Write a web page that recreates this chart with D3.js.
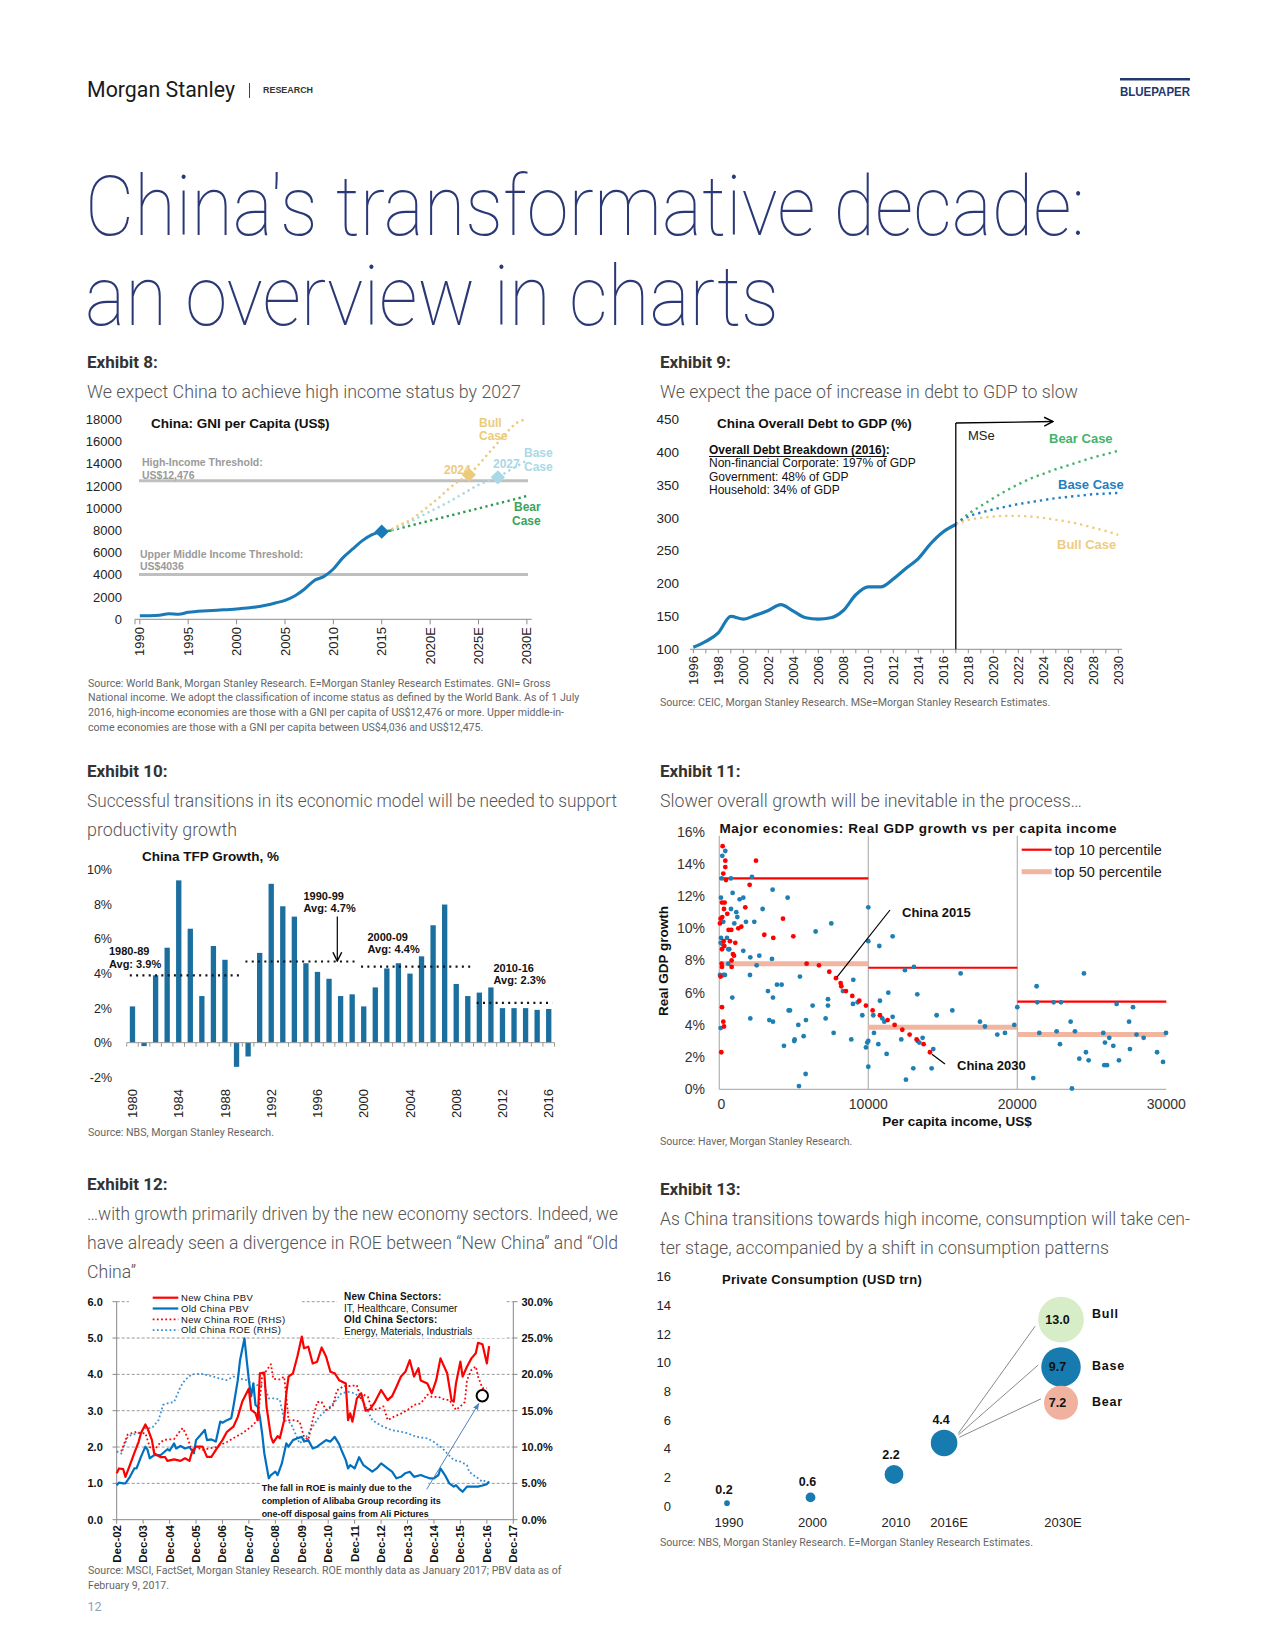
<!DOCTYPE html>
<html><head><meta charset="utf-8">
<script src="https://cdn.jsdelivr.net/npm/d3@7"></script>
<style>body{margin:0;background:#fff}svg{display:block}</style>
</head><body><svg id="page" width="1275" height="1650"></svg>
<script>
// ================= DATA =================
// Exhibit 8: China GNI per capita (US$)
const gniYears = d3.range(1990, 2031).map(String);
const gniTickYears = ["1990","1995","2000","2005","2010","2015","2020","2025","2030"];
const gniTickLabels = ["1990","1995","2000","2005","2010","2015","2020E","2025E","2030E"];
const gniYTicks = [0,2000,4000,6000,8000,10000,12000,14000,16000,18000];
const gniHistYears = d3.range(1990, 2016).map(String);
const gniHist = [310,320,360,510,450,630,720,780,810,870,930,1020,1110,1260,1470,1710,2100,2700,3480,3840,4530,5550,6330,7080,7620,7890];
const gniProjYears = d3.range(2016, 2031).map(String);
const gniBull = [8100,8550,8950,9600,10300,11000,11800,12450,13000,13900,14900,15900,16900,17700,18000];
const gniBase = [8050,8400,8800,9250,9700,10150,10600,11100,11600,12100,12450,12780,13300,13800,14300];
const gniBear = [8000,8220,8440,8660,8880,9100,9320,9540,9760,9980,10200,10420,10640,10860,11100];
const gniHighIncome = 12476, gniUpperMiddle = 4036;

// Exhibit 9: China overall debt to GDP (%)
const debtYears = d3.range(1996, 2031).map(String);
const debtTickYears = d3.range(1996, 2031, 2).map(String);
const debtYTicks = [100,150,200,250,300,350,400,450];
const debtHistYears = d3.range(1996, 2018).map(String);
const debtHist = [103,112,125,150,146,152,159,168,158,148,146,148,159,183,195,195,207,223,238,261,279,290];
const debtProjYears = d3.range(2017, 2031).map(String);
const debtBear = [290,306,318,330,341,351,360,367,374,380,386,392,397,402];
const debtBase = [290,302,308,313,317,321,324,327,330,332,334,336,337,338];
const debtBull = [290,297,300,302,303,303,302,300,297,294,290,285,280,274];

// Exhibit 10: China TFP growth, %
const tfpYears = d3.range(1980, 2017).map(String);
const tfpValues = [2.1,-0.2,3.9,5.5,9.4,6.6,2.7,5.6,4.8,-1.4,-0.8,5.2,9.2,7.9,7.3,4.6,4.1,3.7,2.7,2.8,2.1,3.2,4.3,4.6,4.0,5.0,6.8,8.0,3.4,2.7,2.9,3.2,2.0,2.0,2.0,1.9,1.95];
const tfpTickYears = ["1980","1984","1988","1992","1996","2000","2004","2008","2012","2016"];
const tfpYTicks = [-2,0,2,4,6,8,10];
const tfpAvgLabels = ["1980-89","1990-99","2000-09","2010-16"];
const tfpAvgValues = [3.9,4.7,4.4,2.3];
const tfpAvgFrom = ["1980","1990","2000","2010"];
const tfpAvgTo = ["1989","1999","2009","2016"];

// Exhibit 11: Real GDP growth (%) vs per capita income (US$)
const gdpBlue = [[403,14.8],[201,14.5],[157,13.1],[783,13.1],[2192,13.2],[112,11.9],[895,12.2],[1364,11.8],[1610,11.9],[783,11.2],[1141,11.0],[1208,10.7],[3579,12.4],[4586,11.9],[2908,11.2],[268,10.4],[1007,10.3],[1790,10.4],[2349,10.4],[7516,10.3],[6465,9.8],[112,9.4],[89,9.1],[224,9.0],[514,9.4],[604,8.7],[671,8.7],[1610,8.6],[2080,8.2],[2684,8.3],[3534,8.1],[2505,7.7],[604,7.8],[2058,7.1],[45,7.1],[268,7.1],[380,7.1],[5413,7.0],[8993,6.8],[3870,6.5],[4183,6.5],[3266,6.1],[3602,5.7],[872,5.7],[7293,5.6],[7293,5.2],[8300,6.1],[6264,5.2],[8970,5.3],[9284,5.4],[4653,4.9],[4742,4.9],[2080,4.4],[3355,4.3],[3602,4.2],[7136,4.4],[9597,4.6],[5302,4.0],[5816,4.3],[5660,3.3],[5056,3.1],[5030,3.0],[4340,2.7],[5794,0.95],[7673,3.5],[8858,3.1],[10000,11.3],[10000,9.2],[10738,8.9],[11633,9.5],[10000,3.0],[9843,2.6],[9930,2.9],[10000,1.4],[10335,4.6],[10380,3.5],[10782,5.5],[11342,6.0],[10940,4.4],[11073,4.2],[11633,4.5],[10671,2.8],[11230,2.2],[12460,7.4],[13064,7.6],[13288,5.9],[12214,3.1],[13310,3.0],[13422,2.9],[13646,3.2],[14361,2.5],[14585,4.6],[15637,4.9],[16196,7.2],[13019,1.3],[12527,0.6],[14250,1.3],[17493,4.2],[17829,3.9],[18657,3.4],[19171,3.5],[19798,4.0],[20000,5.1],[21296,6.4],[21341,5.4],[21475,3.5],[22437,5.4],[22930,5.4],[22638,3.6],[22862,2.8],[23578,4.2],[23869,3.6],[24473,7.2],[24160,1.9],[24607,2.3],[24786,1.8],[21072,0.7],[25770,3.5],[26173,3.2],[25883,2.9],[26442,2.7],[25838,1.5],[26665,5.3],[26822,1.8],[23667,0.05],[5346,0.2],[27765,5.1],[27500,4.2],[28480,3.2],[29380,2.3],[29980,3.5],[26020,1.5],[27560,2.5],[29780,1.7],[28000,3.4],[89,3.8]];
const gdpRed = [[224,15.1],[403,14.2],[403,13.8],[268,13.4],[447,13.0],[179,11.6],[358,11.6],[313,11.2],[537,10.9],[45,10.3],[89,10.6],[201,10.7],[626,9.9],[805,9.9],[1275,10.0],[1476,10.1],[1745,11.3],[2036,12.7],[2461,14.2],[291,9.2],[179,8.7],[335,8.9],[716,9.2],[1074,9.1],[917,8.4],[985,8.3],[828,8.0],[157,7.8],[179,7.6],[828,7.6],[89,7.0],[3020,9.6],[3624,9.4],[4273,10.6],[4966,9.5],[5861,7.8],[6689,7.7],[7382,7.3],[7830,6.9],[8143,6.6],[8188,6.4],[8500,6.1],[8925,5.8],[9395,5.5],[9843,5.2],[10290,4.9],[10782,4.6],[11297,4.3],[11767,4.0],[12281,3.7],[12773,3.4],[13243,3.1],[13713,2.8],[14138,2.3],[179,5.1],[268,4.2],[313,3.9],[134,2.3]];
const gdpBandFrom = [0,10000,20000];
const gdpBandTo = [10000,20000,30000];
const gdpTop10 = [13.1,7.55,5.45];
const gdpTop50 = [7.8,3.85,3.4];
const gdpXTicks = [0,10000,20000,30000];
const gdpYTicks = [0,2,4,6,8,10,12,14,16];
const china2015 = [7830,6.9], china2030 = [14138,2.3];

// Exhibit 12: New vs Old China PBV (LHS) and ROE % (RHS)
const newChinaPBV = [["2002-12",1.28],["2003-01",1.41],["2003-03",1.39],["2003-04",1.18],["2003-06",1.50],["2003-08",1.83],["2003-10",2.15],["2003-11",2.38],["2004-01",2.62],["2004-02",2.51],["2004-04",2.19],["2004-05",1.83],["2004-08",1.72],["2004-10",1.72],["2004-11",1.62],["2005-02",1.66],["2005-05",1.62],["2005-07",1.69],["2005-09",1.62],["2005-10",1.83],["2005-12",2.01],["2006-03",2.01],["2006-05",1.73],["2006-07",1.73],["2006-09",1.92],["2006-12",2.19],["2007-02",2.42],["2007-05",2.56],["2007-07",2.83],["2007-09",3.25],["2007-12",3.61],["2008-01",3.02],["2008-03",2.93],["2008-04",2.74],["2008-05",4.03],["2008-07",4.05],["2008-08",3.11],["2008-10",2.28],["2008-11",2.12],["2009-01",2.30],["2009-02",2.24],["2009-04",2.74],["2009-05",3.48],["2009-06",3.94],["2009-08",4.03],["2009-10",4.49],["2009-12",5.04],["2010-01",4.72],["2010-03",4.76],["2010-05",4.30],["2010-07",4.35],["2010-09",4.74],["2010-11",4.49],["2011-01",4.07],["2011-03",4.03],["2011-05",3.84],["2011-08",3.75],["2011-09",2.74],["2011-10",2.93],["2011-11",2.70],["2012-01",3.34],["2012-03",3.48],["2012-05",3.00],["2012-07",3.04],["2012-09",3.22],["2012-12",3.57],["2013-03",3.29],["2013-05",3.40],["2013-07",3.66],["2013-09",3.94],["2013-11",4.07],["2014-01",4.39],["2014-03",3.94],["2014-05",4.17],["2014-06",3.83],["2014-09",3.75],["2014-11",3.48],["2015-01",3.84],["2015-03",4.44],["2015-06",4.03],["2015-08",3.29],["2015-09",3.25],["2015-10",3.75],["2015-12",4.35],["2016-01",3.94],["2016-03",4.21],["2016-05",4.44],["2016-07",4.58],["2016-08",4.87],["2016-10",4.83],["2016-12",4.30],["2017-01",4.78]];
const oldChinaPBV = [["2002-12",0.95],["2003-01",1.02],["2003-03",1.00],["2003-04",1.00],["2003-06",1.18],["2003-08",1.41],["2003-09",1.41],["2003-11",1.73],["2004-01",2.01],["2004-02",1.92],["2004-03",1.69],["2004-05",1.78],["2004-08",1.78],["2004-11",1.94],["2004-12",1.90],["2005-02",2.10],["2005-03",1.96],["2005-05",2.03],["2005-07",1.96],["2005-09",2.00],["2005-11",1.83],["2005-12",2.19],["2006-02",2.33],["2006-04",2.47],["2006-05",2.19],["2006-07",2.21],["2006-09",2.15],["2006-11",2.70],["2006-12",2.67],["2007-02",2.74],["2007-04",2.79],["2007-05",3.11],["2007-07",3.84],["2007-08",4.39],["2007-10",4.99],["2007-11",4.39],["2007-12",3.84],["2008-01",3.39],["2008-02",3.75],["2008-03",3.16],["2008-04",3.11],["2008-05",2.83],["2008-06",2.38],["2008-07",1.83],["2008-09",1.14],["2008-10",1.23],["2008-12",1.32],["2009-01",1.23],["2009-03",1.55],["2009-05",2.10],["2009-06",2.01],["2009-08",2.19],["2009-10",2.24],["2009-12",2.28],["2010-01",2.15],["2010-03",2.19],["2010-05",1.96],["2010-07",2.01],["2010-09",2.10],["2010-11",2.19],["2011-01",2.15],["2011-03",2.28],["2011-05",2.08],["2011-06",1.92],["2011-08",1.64],["2011-09",1.41],["2011-10",1.50],["2011-12",1.41],["2012-02",1.72],["2012-04",1.50],["2012-06",1.41],["2012-08",1.32],["2012-10",1.41],["2012-12",1.55],["2013-03",1.41],["2013-05",1.32],["2013-07",1.14],["2013-09",1.18],["2013-11",1.28],["2014-01",1.32],["2014-03",1.18],["2014-06",1.23],["2014-08",1.18],["2014-10",1.14],["2014-12",1.14],["2015-02",1.23],["2015-03",1.41],["2015-05",1.23],["2015-07",1.00],["2015-09",0.91],["2015-10",0.95],["2015-12",0.82],["2016-01",0.77],["2016-03",0.91],["2016-05",0.91],["2016-08",0.91],["2016-10",0.94],["2016-12",0.98],["2017-01",1.05]];
const newChinaROE = [["2003-02",9.4],["2003-05",11.7],["2003-07",11.9],["2003-09",12.1],["2003-11",11.9],["2004-01",11.9],["2004-03",10.0],["2004-05",9.6],["2004-08",10.7],["2004-10",11.0],["2005-02",11.1],["2005-05",12.3],["2005-06",12.6],["2005-08",11.4],["2005-10",9.6],["2005-12",10.0],["2006-03",9.6],["2006-06",9.8],["2006-09",10.0],["2007-02",10.7],["2007-06",11.4],["2007-09",11.9],["2008-01",12.8],["2008-04",13.7],["2008-06",19.7],["2008-10",21.4],["2008-11",19.4],["2009-02",19.3],["2009-04",19.7],["2009-05",16.9],["2009-06",13.7],["2009-08",13.7],["2009-11",13.5],["2010-01",11.4],["2010-03",11.0],["2010-05",13.7],["2010-07",16.2],["2010-09",16.2],["2010-11",15.1],["2011-02",15.6],["2011-04",17.8],["2011-07",18.4],["2011-10",18.4],["2012-01",18.5],["2012-03",16.5],["2012-04",17.2],["2012-06",16.9],["2012-08",15.1],["2012-11",15.3],["2013-01",15.6],["2013-03",13.7],["2013-06",14.2],["2013-09",14.6],["2013-12",15.1],["2014-03",15.8],["2014-06",16.0],["2014-09",17.2],["2014-11",16.9],["2015-02",16.9],["2015-05",16.5],["2015-07",16.5],["2015-10",15.1],["2015-12",15.6],["2016-02",16.2],["2016-03",19.2],["2016-05",20.6],["2016-07",21.1],["2016-08",19.7],["2016-10",18.1],["2016-12",18.1]];
const oldChinaROE = [["2002-12",9.4],["2003-02",9.1],["2003-05",11.4],["2003-07",11.7],["2003-10",11.9],["2004-01",12.6],["2004-04",12.6],["2004-07",13.7],["2004-09",15.8],["2004-11",16.0],["2005-02",16.2],["2005-05",18.3],["2005-07",19.2],["2005-10",20.0],["2006-02",20.1],["2006-05",19.9],["2006-08",19.7],["2006-11",19.4],["2007-02",19.2],["2007-05",19.7],["2007-08",19.4],["2007-11",19.2],["2008-01",18.8],["2008-04",18.5],["2008-07",18.5],["2008-09",16.7],["2008-12",16.7],["2009-02",16.5],["2009-04",13.7],["2009-07",13.3],["2009-09",11.9],["2009-11",10.5],["2010-02",11.4],["2010-05",12.8],["2010-08",14.2],["2010-12",15.3],["2011-03",16.2],["2011-06",17.4],["2011-09",17.6],["2011-12",17.4],["2012-03",16.7],["2012-05",15.6],["2012-08",13.7],["2012-10",13.3],["2013-01",12.8],["2013-05",12.3],["2013-09",12.1],["2013-12",11.9],["2014-04",11.4],["2014-09",11.2],["2014-12",10.7],["2015-04",9.8],["2015-06",9.1],["2015-09",8.2],["2015-12",8.0],["2016-03",7.5],["2016-04",6.6],["2016-06",6.1],["2016-08",5.7],["2016-10",5.2],["2016-12",5.5]];
const pbvTicks = [0,1,2,3,4,5,6];
const roeTicks = [0,5,10,15,20,25,30];
const roeTickYears = d3.range(2002, 2018);

// Exhibit 13: Private consumption (USD trn)
const consYears = [1990, 2000, 2010, 2016];
const consValues = [0.2, 0.6, 2.2, 4.4];
const consXLabels = ["1990","2000","2010","2016E","2030E"];
const consXLabelYears = [1990, 2000, 2010, 2016, 2030];
const consScenarios = ["Bull","Base","Bear"];
const consScenarioValues = [13.0, 9.7, 7.2];
const consYTicks = [0,2,4,6,8,10,12,14,16];

// ================= DRAWING =================
const CH = "'Liberation Sans', Arial, Helvetica, sans-serif";
const BD = "Roboto, 'Noto Sans', sans-serif";
const svg = d3.select('#page');
svg.append('rect').attr('width',1275).attr('height',1650).attr('fill','#fff');
const defs = svg.append('defs');
function marker(id, color, filled, size){
  const m = defs.append('marker').attr('id',id).attr('viewBox','0 0 10 10').attr('refX',9).attr('refY',5)
    .attr('markerWidth',size).attr('markerHeight',size).attr('markerUnits','userSpaceOnUse').attr('orient','auto');
  if (filled) m.append('path').attr('d','M0,1 L10,5 L0,9 Z').attr('fill',color);
  else m.append('path').attr('d','M1,1 L9,5 L1,9').attr('fill','none').attr('stroke',color).attr('stroke-width',1.3);
}
marker('arrK','#000',false,11);
marker('arrB','#4f81bd',true,7);

function T(g, x, y, s, o = {}) {
  const t = g.append('text').attr('x', x).attr('y', y).text(s)
    .style('font-family', o.ff || CH).style('font-size', (o.fs || 12) + 'px')
    .style('font-weight', o.fw || 400).attr('fill', o.fill || '#222');
  if (o.anchor) t.attr('text-anchor', o.anchor);
  if (o.ls) t.style('letter-spacing', o.ls + 'px');
  if (o.dy) t.attr('dy', o.dy);
  if (o.tl) t.attr('textLength', o.tl).attr('lengthAdjust', 'spacingAndGlyphs');
  return t;
}
function rot(g, x, y, s, o = {}) {
  return T(g, 0, 0, s, Object.assign({anchor: 'end', dy: '0.35em'}, o)).attr('transform', `translate(${x},${y}) rotate(-90)`);
}
function L(g, x1, y1, x2, y2, stroke, w, dash) {
  const l = g.append('line').attr('x1',x1).attr('y1',y1).attr('x2',x2).attr('y2',y2).attr('stroke',stroke).attr('stroke-width',w||1);
  if (dash) l.attr('stroke-dasharray', dash);
  return l;
}

// ---- Header ----
T(svg, 87, 97, 'Morgan Stanley', {ff: BD, fs: 22, fill: '#1a1a1a', tl: 148});
L(svg, 249.5, 83, 249.5, 98, '#444', 1);
T(svg, 263, 93, 'RESEARCH', {fs: 8.5, fw: 700, fill: '#333', tl: 50});
svg.append('rect').attr('x',1120).attr('y',78).attr('width',70).attr('height',2.5).attr('fill','#23386e');
T(svg, 1190, 95.5, 'BLUEPAPER', {fs: 12.5, fw: 700, fill: '#23386e', anchor: 'end', tl: 70});
T(svg, 85, 235, "China's transformative decade:", {ff: BD, fs: 84, fw: 100, fill: '#2b3876', tl: 1000});
T(svg, 85, 325, "an overview in charts", {ff: BD, fs: 84, fw: 100, fill: '#2b3876', tl: 694});

function exhibit(x, yHead, head, lines, y0, widths) {
  T(svg, x, yHead, head, {ff: BD, fs: 17, fw: 700, fill: '#333'});
  lines.forEach((l, i) => T(svg, x, y0 + i * 29.2, l, {ff: BD, fs: 17.5, fw: 300, fill: '#555', tl: widths[i]}));
}
function source(x, y, lines) {
  lines.forEach((l, i) => T(svg, x, y + i * 14.7, l, {ff: BD, fs: 10.6, fw: 400, fill: '#666'}));
}

// ---- Exhibit 8 ----
exhibit(87, 368, 'Exhibit 8:', ['We expect China to achieve high income status by 2027'], 398, [434]);
{
  const g = svg.append('g');
  const x = d3.scaleBand().domain(gniYears).range([135, 531.7]);
  const cx = y => x(y) + x.bandwidth() / 2;
  const y = d3.scaleLinear().domain([0, 18000]).range([619.3, 419.3]);
  gniYTicks.forEach(v => T(g, 122, y(v), String(v), {fs: 13, anchor: 'end', dy: '0.35em'}));
  L(g, 139, y(gniHighIncome), 528, y(gniHighIncome), '#bfbfbf', 3);
  L(g, 139, y(gniUpperMiddle), 528, y(gniUpperMiddle), '#bfbfbf', 3);
  L(g, 135, y(0), 531.7, y(0), '#8c8c8c', 1);
  [135].concat(gniTickYears.map(cx)).forEach(px => L(g, px, y(0), px, y(0) + 5, '#8c8c8c', 1));
  gniTickYears.forEach((yr, i) => rot(g, cx(yr), 627, gniTickLabels[i], {fs: 13}));
  const line = d3.line().x(d => cx(d[0])).y(d => y(d[1])).curve(d3.curveMonotoneX);
  const proj = (vals, color) => g.append('path').datum(gniProjYears.map((yr, i) => [yr, vals[i]]))
      .attr('d', line).attr('fill', 'none').attr('stroke', color).attr('stroke-width', 2.4).attr('stroke-dasharray', '2.3,3.4');
  proj(gniBear, '#2e9a4e'); proj(gniBase, '#a9d9e6'); proj(gniBull, '#eccb7a');
  L(g, cx('2015'), y(gniHist[gniHist.length-1]), cx('2016'), y(gniBear[0]), '#2e9a4e', 2.5);
  g.append('path').datum(gniHistYears.map((yr, i) => [yr, gniHist[i]])).attr('d', line)
    .attr('fill', 'none').attr('stroke', '#1a7ab5').attr('stroke-width', 3);
  const diamond = (yr, v, color) => g.append('path').attr('d', d3.symbol(d3.symbolDiamond2, 130)())
      .attr('transform', `translate(${cx(yr)},${y(v)})`).attr('fill', color);
  diamond('2015', gniHist[gniHist.length-1], '#1a7ab5');
  diamond('2024', gniBull[gniProjYears.indexOf('2024')], '#eccb7a');
  diamond('2027', gniBase[gniProjYears.indexOf('2027')], '#a9d9e6');
  T(g, 151, 428, 'China: GNI per Capita (US$)', {fs: 13.5, fw: 700, fill: '#111'});
  T(g, 142, 466, 'High-Income Threshold:', {fs: 10.5, fw: 700, fill: '#9a9a9a'});
  T(g, 142, 479, 'US$12,476', {fs: 10.5, fw: 700, fill: '#9a9a9a'});
  T(g, 140, 558, 'Upper Middle Income Threshold:', {fs: 10.5, fw: 700, fill: '#9a9a9a'});
  T(g, 140, 570, 'US$4036', {fs: 10.5, fw: 700, fill: '#9a9a9a'});
  T(g, 479, 427, 'Bull', {fs: 12, fw: 700, fill: '#eccb7a'});
  T(g, 479, 440, 'Case', {fs: 12, fw: 700, fill: '#eccb7a'});
  T(g, 524, 457, 'Base', {fs: 12, fw: 700, fill: '#a9d9e6'});
  T(g, 524, 471, 'Case', {fs: 12, fw: 700, fill: '#a9d9e6'});
  T(g, 514, 511, 'Bear', {fs: 12, fw: 700, fill: '#3aa45a'});
  T(g, 512, 525, 'Case', {fs: 12, fw: 700, fill: '#3aa45a'});
  T(g, 444, 474, '2024', {fs: 12, fw: 700, fill: '#eccb7a'});
  T(g, 493, 468, '2027', {fs: 12, fw: 700, fill: '#a9d9e6'});
}
source(88, 686.5, ['Source: World Bank, Morgan Stanley Research. E=Morgan Stanley Research Estimates. GNI= Gross',
  'National income. We adopt the classification of income status as defined by the World Bank. As of 1 July',
  '2016, high-income economies are those with a GNI per capita of US$12,476 or more. Upper middle-in-',
  'come economies are those with a GNI per capita between US$4,036 and US$12,475.']);

// ---- Exhibit 9 ----
exhibit(660, 368, 'Exhibit 9:', ['We expect the pace of increase in debt to GDP to slow'], 398, [418]);
{
  const g = svg.append('g');
  const x = d3.scalePoint().domain(debtYears).range([693.3, 1118.3]);
  const y = d3.scaleLinear().domain([100, 450]).range([649.3, 419.3]);
  debtYTicks.forEach(v => T(g, 679, y(v), String(v), {fs: 13.5, anchor: 'end', dy: '0.35em'}));
  L(g, 690, y(100), 1122, y(100), '#8c8c8c', 1);
  debtYears.forEach(yr => L(g, x(yr), y(100), x(yr), y(100) + 4, '#8c8c8c', 1));
  debtTickYears.forEach(yr => rot(g, x(yr), 656, yr, {fs: 13}));
  const line = d3.line().x(d => x(d[0])).y(d => y(d[1])).curve(d3.curveMonotoneX);
  const proj = (vals, color) => g.append('path').datum(debtProjYears.map((yr, i) => [yr, vals[i]]))
      .attr('d', line).attr('fill', 'none').attr('stroke', color).attr('stroke-width', 2.4).attr('stroke-dasharray', '2.3,4');
  proj(debtBear, '#45b36b'); proj(debtBase, '#1f7fc0'); proj(debtBull, '#efcc80');
  g.append('path').datum(debtHistYears.map((yr, i) => [yr, debtHist[i]])).attr('d', line)
    .attr('fill', 'none').attr('stroke', '#1a7ab5').attr('stroke-width', 3.2);
  const xm = x('2017');
  L(g, xm, y(100), xm, 423, '#000', 1.3);
  L(g, xm, 423, 1053, 421.5, '#000', 1.3).attr('marker-end', 'url(#arrK)');
  T(g, 968, 440, 'MSe', {fs: 13});
  T(g, 717, 428, 'China Overall Debt to GDP (%)', {fs: 13.5, fw: 700, fill: '#111'});
  T(g, 709, 454, 'Overall Debt Breakdown (2016):', {fs: 12, fw: 700, fill: '#111'});
  L(g, 709, 456.5, 887, 456.5, '#111', 1);
  T(g, 709, 467, 'Non-financial Corporate: 197% of GDP', {fs: 12, fill: '#111'});
  T(g, 709, 480.5, 'Government: 48% of GDP', {fs: 12, fill: '#111'});
  T(g, 709, 494, 'Household: 34% of GDP', {fs: 12, fill: '#111'});
  T(g, 1049, 443, 'Bear Case', {fs: 13, fw: 700, fill: '#45b36b'});
  T(g, 1058, 489, 'Base Case', {fs: 13, fw: 700, fill: '#1f7fc0'});
  T(g, 1057, 549, 'Bull Case', {fs: 13, fw: 700, fill: '#efcc80'});
}
source(660, 706, ['Source: CEIC, Morgan Stanley Research. MSe=Morgan Stanley Research Estimates.']);

// ---- Exhibit 10 ----
exhibit(87, 777, 'Exhibit 10:', ['Successful transitions in its economic model will be needed to support', 'productivity growth'], 807, [530, 150]);
{
  const g = svg.append('g');
  const x = d3.scaleBand().domain(tfpYears).range([126.7, 554.5]).paddingInner(0.54).paddingOuter(0.27);
  const y = d3.scaleLinear().domain([-2, 10]).range([1077.2, 870]);
  tfpYTicks.forEach(v => T(g, 112, y(v), v + '%', {fs: 12.5, anchor: 'end', dy: '0.35em'}));
  g.selectAll('rect.bar').data(tfpYears).enter().append('rect')
    .attr('x', d => x(d)).attr('width', x.bandwidth())
    .attr('y', (d, i) => y(Math.max(0, tfpValues[i]))).attr('height', (d, i) => Math.abs(y(tfpValues[i]) - y(0)))
    .attr('fill', '#1b6f9f');
  L(g, 126.7, y(0), 554.5, y(0), '#999', 1);
  const step = x.step();
  d3.range(0, tfpYears.length + 1).forEach(i => { const px = 126.7 + i * step; L(g, px, y(0), px, y(0) + 4, '#999', 1); });
  tfpTickYears.forEach(yr => rot(g, x(yr) + x.bandwidth() / 2, 1089, yr, {fs: 13}));
  tfpAvgLabels.forEach((lab, i) => {
    L(g, x(tfpAvgFrom[i]), y(tfpAvgValues[i]), x(tfpAvgTo[i]) + x.bandwidth() + 1, y(tfpAvgValues[i]), '#111', 2.2, '2,4.3');
  });
  T(g, 142, 861, 'China TFP Growth, %', {fs: 13.5, fw: 700, fill: '#111'});
  const lab = (px, py, a, b) => { T(g, px, py, a, {fs: 11, fw: 700, fill: '#111'}); T(g, px, py + 12.5, b, {fs: 11, fw: 700, fill: '#111'}); };
  lab(109, 955, '1980-89', 'Avg: 3.9%');
  lab(303.5, 899.5, '1990-99', 'Avg: 4.7%');
  lab(367.5, 940.5, '2000-09', 'Avg: 4.4%');
  lab(493.5, 971.5, '2010-16', 'Avg: 2.3%');
  L(g, 337.3, 916.5, 337.3, 961, '#000', 1.2).attr('marker-end', 'url(#arrK)');
}
source(88, 1136, ['Source: NBS, Morgan Stanley Research.']);

// ---- Exhibit 11 ----
exhibit(660, 777, 'Exhibit 11:', ['Slower overall growth will be inevitable in the process…'], 807, [422]);
{
  const g = svg.append('g');
  const x = d3.scaleLinear().domain([0, 30000]).range([719.3, 1166.3]);
  const y = d3.scaleLinear().domain([0, 16]).range([1089.3, 831.7]);
  gdpYTicks.forEach(v => T(g, 705, y(v), v + '%', {fs: 14, anchor: 'end', dy: '0.35em', fill: '#333'}));
  gdpXTicks.forEach(v => T(g, x(v) + (v === 0 ? 2 : 0), 1109, String(v), {fs: 14, anchor: 'middle', fill: '#333'}));
  [0, 10000, 20000].forEach(v => L(g, x(v), y(16) + 4, x(v), y(0), '#b3b3b3', 1.2));
  L(g, x(0), y(0), x(30000), y(0), '#b3b3b3', 1.2);
  gdpBandFrom.forEach((f, i) => {
    L(g, x(f), y(gdpTop50[i]), x(gdpBandTo[i]), y(gdpTop50[i]), '#f2b5a0', 5);
    L(g, x(f), y(gdpTop10[i]), x(gdpBandTo[i]), y(gdpTop10[i]), '#ff0000', 2.2);
  });
  g.selectAll('circle.b').data(gdpBlue).enter().append('circle')
    .attr('cx', d => x(d[0])).attr('cy', d => y(d[1])).attr('r', 2.4).attr('fill', '#1f7fb5');
  g.selectAll('circle.r').data(gdpRed).enter().append('circle')
    .attr('cx', d => x(d[0])).attr('cy', d => y(d[1])).attr('r', 2.4).attr('fill', '#ff0000');
  T(g, 719.5, 832.5, 'Major economies: Real GDP growth vs per capita income', {fs: 13.5, fw: 700, fill: '#111', ls: 0.6});
  rot(g, 668, 961, 'Real GDP growth', {fs: 13.5, fw: 700, fill: '#111', anchor: 'middle', dy: 0});
  T(g, 957, 1126, 'Per capita income, US$', {fs: 13.5, fw: 700, fill: '#111', anchor: 'middle'});
  L(g, 1021.7, 849.7, 1051.7, 849.7, '#ff0000', 2.2);
  L(g, 1021.7, 871.7, 1051.7, 871.7, '#f2b5a0', 5);
  T(g, 1054.5, 854.5, 'top 10 percentile', {fs: 14.5, fill: '#222'});
  T(g, 1054.5, 876.5, 'top 50 percentile', {fs: 14.5, fill: '#222'});
  L(g, 890, 910, x(china2015[0]) + 1, y(china2015[1]) - 1, '#000', 1.2);
  T(g, 902, 917, 'China 2015', {fs: 13, fw: 700, fill: '#111'});
  L(g, 945, 1064, x(china2030[0]) + 2, y(china2030[1]) + 2, '#000', 1.2);
  T(g, 957, 1069.5, 'China 2030', {fs: 13, fw: 700, fill: '#111'});
}
source(660, 1145, ['Source: Haver, Morgan Stanley Research.']);

// ---- Exhibit 12 ----
exhibit(87, 1190, 'Exhibit 12:', ['…with growth primarily driven by the new economy sectors. Indeed, we', 'have already seen a divergence in ROE between “New China” and “Old', 'China”'], 1219.5, [531, 531, 49]);
{
  const g = svg.append('g');
  const parse = s => { const p = s.split('-'); return new Date(+p[0], +p[1] - 1, 1); };
  const x = d3.scaleTime().domain([new Date(2002, 11, 1), new Date(2017, 11, 1)]).range([116.7, 513.3]);
  const yL = d3.scaleLinear().domain([0, 6]).range([1519.7, 1301.7]);
  const yR = d3.scaleLinear().domain([0, 30]).range([1519.7, 1301.7]);
  pbvTicks.forEach(v => { if (v > 0) L(g, 116.7, yL(v), 513.3, yL(v), '#7f7f7f', 0.8, '3,2'); });
  pbvTicks.forEach(v => { T(g, 87.5, yL(v), v.toFixed(1), {fs: 11, fw: 700, fill: '#111', dy: '0.35em'}); L(g, 112.5, yL(v), 116.7, yL(v), '#888', 1); });
  roeTicks.forEach(v => { T(g, 521.5, yR(v), v.toFixed(1) + '%', {fs: 11, fw: 700, fill: '#111', dy: '0.35em'}); L(g, 513.3, yR(v), 517.5, yR(v), '#888', 1); });
  L(g, 116.7, yL(6), 116.7, yL(0), '#888', 1);
  L(g, 513.3, yL(6), 513.3, yL(0), '#888', 1);
  L(g, 116.7, yL(0), 513.3, yL(0), '#888', 1);
  roeTickYears.forEach(yr => { const px = x(new Date(yr, 11, 1)); L(g, px, yL(0), px, yL(0) + 4, '#888', 1);
    rot(g, px, 1525, 'Dec-' + String(yr).slice(2), {fs: 11.5, fw: 700, fill: '#111'}); });
  g.append('rect').attr('x', 129).attr('y', 1290).attr('width', 173).attr('height', 46).attr('fill', '#fff');
  g.append('rect').attr('x', 337).attr('y', 1290).attr('width', 169).attr('height', 48).attr('fill', '#fff');
  g.append('rect').attr('x', 260).attr('y', 1481.5).attr('width', 168).attr('height', 38).attr('fill', '#fff');
  const lp = (yS) => d3.line().x(d => x(parse(d[0]))).y(d => yS(d[1]));
  const draw = (data, yS, color, dotted) => {
    const p = g.append('path').datum(data).attr('d', lp(yS)).attr('fill', 'none').attr('stroke', color)
      .attr('stroke-width', dotted ? 1.8 : 2.2).attr('stroke-linejoin', 'round');
    if (dotted) p.attr('stroke-dasharray', '1.8,2.4');
  };
  draw(oldChinaROE, yR, '#3a8fd6', true);
  draw(newChinaROE, yR, '#ff0000', true);
  draw(oldChinaPBV, yL, '#0070c0', false);
  draw(newChinaPBV, yL, '#ff0000', false);
  const leg = [['New China PBV', '#ff0000', false], ['Old China PBV', '#0070c0', false], ['New China ROE (RHS)', '#ff0000', true], ['Old China ROE (RHS)', '#3a8fd6', true]];
  leg.forEach((d, i) => { const yy = 1297.7 + i * 10.8;
    L(g, 152.7, yy, 178.3, yy, d[1], d[2] ? 1.8 : 2.2, d[2] ? '1.8,2.4' : null);
    T(g, 181, yy + 3.3, d[0], {fs: 9.5, fill: '#111', ls: 0.3}); });
  T(g, 344, 1300, 'New China Sectors:', {fs: 10, fw: 700, fill: '#111', ls: 0.2});
  T(g, 344, 1312, 'IT, Healthcare, Consumer', {fs: 10, fill: '#111'});
  T(g, 344, 1323.3, 'Old China Sectors:', {fs: 10, fw: 700, fill: '#111', ls: 0.2});
  T(g, 344, 1334.5, 'Energy, Materials, Industrials', {fs: 10, fill: '#111'});
  T(g, 261.7, 1490.5, 'The fall in ROE  is mainly due to the', {fs: 9, fw: 700, fill: '#111', tl: 150});
  T(g, 261.7, 1503.5, 'completion of Alibaba Group recording its', {fs: 9, fw: 700, fill: '#111', tl: 179});
  T(g, 261.7, 1516.5, 'one-off disposal gains from Ali Pictures', {fs: 9, fw: 700, fill: '#111', tl: 167});
  L(g, 426.7, 1489.3, 478.8, 1403.5, '#4f81bd', 1).attr('marker-end', 'url(#arrB)');
  g.append('circle').attr('cx', 482.3).attr('cy', 1395.7).attr('r', 5.7).attr('fill', 'none').attr('stroke', '#000').attr('stroke-width', 2);
}
source(88, 1574, ['Source: MSCI, FactSet, Morgan Stanley Research. ROE monthly data as January 2017; PBV data as of', 'February 9, 2017.']);
T(svg, 87.5, 1611, '12', {ff: BD, fs: 12.5, fill: '#8fa0bd'});

// ---- Exhibit 13 ----
exhibit(660, 1195, 'Exhibit 13:', ['As China transitions towards high income, consumption will take cen-', 'ter stage, accompanied by a shift in consumption patterns'], 1225, [530, 449]);
{
  const g = svg.append('g');
  const x = d3.scaleLinear().domain([1990, 2030]).range([727, 1061]);
  const y = d3.scaleLinear().domain([0, 16]).range([1506, 1276.7]);
  const r = d3.scaleSqrt().domain([0, 4.4]).range([0, 13.3]);
  consYTicks.forEach(v => T(g, 671, y(v), String(v), {fs: 13, anchor: 'end', dy: '0.35em', fill: '#222'}));
  consXLabelYears.forEach((yr, i) => T(g, x(yr) + (i === 3 ? 5 : 2), 1527, consXLabels[i], {fs: 13, anchor: 'middle', fill: '#222'}));
  const scenColors = ['#d6edc7', '#177bb0', '#f0b29e'];
  const leaderStart = [[958.3, 1433.3], [958.3, 1435], [959.3, 1437.3]];
  const leaderDy = [6.5, -2, -4];
  consScenarios.forEach((s, i) => {
    const cy = y(consScenarioValues[i]), cx = x(2030), rr = r(consScenarioValues[i]);
    L(g, leaderStart[i][0], leaderStart[i][1], cx - rr - 3, cy + leaderDy[i], '#8a8a8a', 1);
  });
  consYears.forEach((yr, i) => {
    g.append('circle').attr('cx', x(yr)).attr('cy', y(consValues[i])).attr('r', r(consValues[i])).attr('fill', '#177bb0');
    T(g, x(yr) - 3, y(consValues[i]) - r(consValues[i]) - 6, consValues[i].toFixed(1), {fs: 12.5, fw: 700, fill: '#111', anchor: 'middle'});
  });
  consScenarios.forEach((s, i) => {
    const cy = y(consScenarioValues[i]), cx = x(2030), rr = r(consScenarioValues[i]);
    g.append('circle').attr('cx', cx).attr('cy', cy).attr('r', rr).attr('fill', scenColors[i]);
    T(g, cx - 3.5, cy, consScenarioValues[i].toFixed(1), {fs: 12.5, fw: 700, fill: '#111', anchor: 'middle', dy: '0.35em'});
    T(g, 1092, cy + (i === 0 ? -2 : 3.5), s, {fs: 12.5, fw: 700, fill: '#111', ls: 0.8});
  });
  T(g, 722, 1284, 'Private Consumption (USD trn)', {fs: 13, fw: 700, fill: '#111', ls: 0.3});
}
source(660, 1546, ['Source: NBS, Morgan Stanley Research. E=Morgan Stanley Research Estimates.']);
</script></body></html>
